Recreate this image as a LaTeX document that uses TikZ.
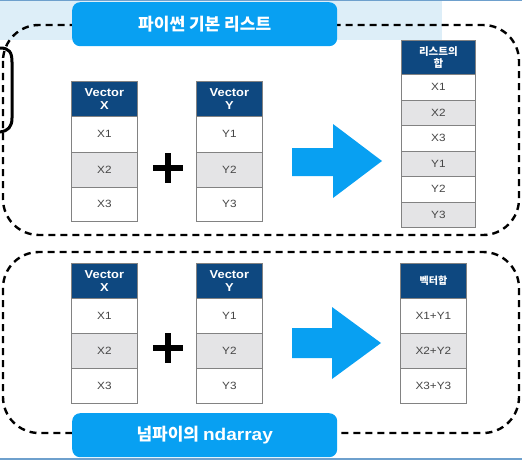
\documentclass[tikz,border=0pt]{standalone}
\usepackage{fontspec}
\setmainfont{Liberation Sans}[FakeStretch=1.12]
\newfontfamily\kr{Noto Sans CJK KR}
\definecolor{navy}{RGB}{14,72,128}
\definecolor{skyblue}{RGB}{8,160,242}
\definecolor{rowgray}{RGB}{228,228,230}
\definecolor{cellborder}{RGB}{130,130,130}
\definecolor{celltext}{RGB}{70,70,70}
\definecolor{bandblue}{RGB}{221,238,248}
\definecolor{lineblue}{RGB}{110,160,205}
\begin{document}
\begin{tikzpicture}[x=1pt,y=-1pt,
  cellbox/.style={draw=cellborder, line width=0.8pt, anchor=north west, inner sep=0pt,
     text=celltext, font=\fontsize{10.5}{12}\selectfont},
  hdrbox/.style={cellbox, fill=navy, text=white, align=center,
     font=\bfseries\fontsize{11.5}{13}\selectfont},
  graycell/.style={cellbox, fill=rowgray},
  whitecell/.style={cellbox, fill=white},
  titlebox/.style={fill=skyblue, rounded corners=8pt, text=white, inner sep=0pt,
     minimum width=265pt, minimum height=44pt, anchor=north west,
     font=\kr\bfseries\fontsize{17}{19}\selectfont},
  groupbox/.style={draw=black, line width=2.4pt, dash pattern=on 7pt off 5pt, rounded corners=36pt},
  bigarrow/.style={fill=skyblue},
  plusbar/.style={fill=black}
]
\useasboundingbox (0,0) rectangle (522,460);
% screenshot background details
\fill[bandblue] (0,0) rectangle (442,40);
\fill[lineblue] (0,0) rectangle (522,1.5);
\fill[lineblue] (0,457.5) rectangle (522,460);
\draw[line width=3pt, line cap=round] (0,48) .. controls (9,48) and (12,52) .. (12,62) -- (12,118) .. controls (12,127) and (8,131) .. (0,132);

% ---------- top group ----------
\draw[groupbox] (3,25) rectangle (519,235);
\node[titlebox] (t1) at (72,2) {파이썬 기본 리스트};

% Vector X
\node[hdrbox, minimum width=66pt, minimum height=35pt] (ax) at (71,81) {Vector\\X};
\node[whitecell, minimum width=66pt, minimum height=35.5pt] (ax1) at (71,116) {X1};
\node[graycell, minimum width=66pt, minimum height=35pt] (ax2) at (71,151.5) {X2};
\node[whitecell, minimum width=66pt, minimum height=34.5pt] (ax3) at (71,186.5) {X3};
% Vector Y
\node[hdrbox, minimum width=66pt, minimum height=35pt] (ay) at (196,81) {Vector\\Y};
\node[whitecell, minimum width=66pt, minimum height=35.5pt] (ay1) at (196,116) {Y1};
\node[graycell, minimum width=66pt, minimum height=35pt] (ay2) at (196,151.5) {Y2};
\node[whitecell, minimum width=66pt, minimum height=34.5pt] (ay3) at (196,186.5) {Y3};
% plus
\fill[plusbar] (153,165) rectangle (183,171);
\fill[plusbar] (165,153) rectangle (171,183);
% arrow
\fill[bigarrow] (292,148) -- (333,148) -- (333,124) -- (382,161) -- (333,198) -- (333,176) -- (292,176) -- cycle;
% result list
\node[hdrbox, minimum width=74pt, minimum height=34pt, font=\kr\bfseries\fontsize{10.5}{12.5}\selectfont] (al) at (401,40) {리스트의\\합};
\node[whitecell, minimum width=74pt, minimum height=25.5pt] (al1) at (401,74) {X1};
\node[graycell, minimum width=74pt, minimum height=25.5pt] (al2) at (401,99.5) {X2};
\node[whitecell, minimum width=74pt, minimum height=25.5pt] (al3) at (401,125) {X3};
\node[graycell, minimum width=74pt, minimum height=25.5pt] (al4) at (401,150.5) {Y1};
\node[whitecell, minimum width=74pt, minimum height=25.5pt] (al5) at (401,176) {Y2};
\node[graycell, minimum width=74pt, minimum height=25.5pt] (al6) at (401,201.5) {Y3};

% ---------- bottom group ----------
\draw[groupbox] (3,252) rectangle (519,433);

\node[hdrbox, minimum width=66pt, minimum height=35pt] (bx) at (71,263) {Vector\\X};
\node[whitecell, minimum width=66pt, minimum height=35pt] (bx1) at (71,298) {X1};
\node[graycell, minimum width=66pt, minimum height=35pt] (bx2) at (71,333) {X2};
\node[whitecell, minimum width=66pt, minimum height=35pt] (bx3) at (71,368) {X3};

\node[hdrbox, minimum width=66pt, minimum height=35pt] (by) at (196,263) {Vector\\Y};
\node[whitecell, minimum width=66pt, minimum height=35pt] (by1) at (196,298) {Y1};
\node[graycell, minimum width=66pt, minimum height=35pt] (by2) at (196,333) {Y2};
\node[whitecell, minimum width=66pt, minimum height=35pt] (by3) at (196,368) {Y3};

\fill[plusbar] (153,345) rectangle (183,351);
\fill[plusbar] (165,333) rectangle (171,363);

\fill[bigarrow] (292,328) -- (332,328) -- (332,307) -- (381,343) -- (332,379) -- (332,358) -- (292,358) -- cycle;

\node[hdrbox, minimum width=66pt, minimum height=35pt, font=\kr\bfseries\fontsize{10}{12}\selectfont] (bs) at (400,263) {벡터합};
\node[whitecell, minimum width=66pt, minimum height=35pt] (bs1) at (400,298) {X1+Y1};
\node[graycell, minimum width=66pt, minimum height=35pt] (bs2) at (400,333) {X2+Y2};
\node[whitecell, minimum width=66pt, minimum height=35pt] (bs3) at (400,368) {X3+Y3};

\node[titlebox] (t2) at (72,413) {넘파이의 \fontspec{Liberation Sans}[FakeStretch=1.12]\bfseries ndarray};
\end{tikzpicture}
\end{document}
